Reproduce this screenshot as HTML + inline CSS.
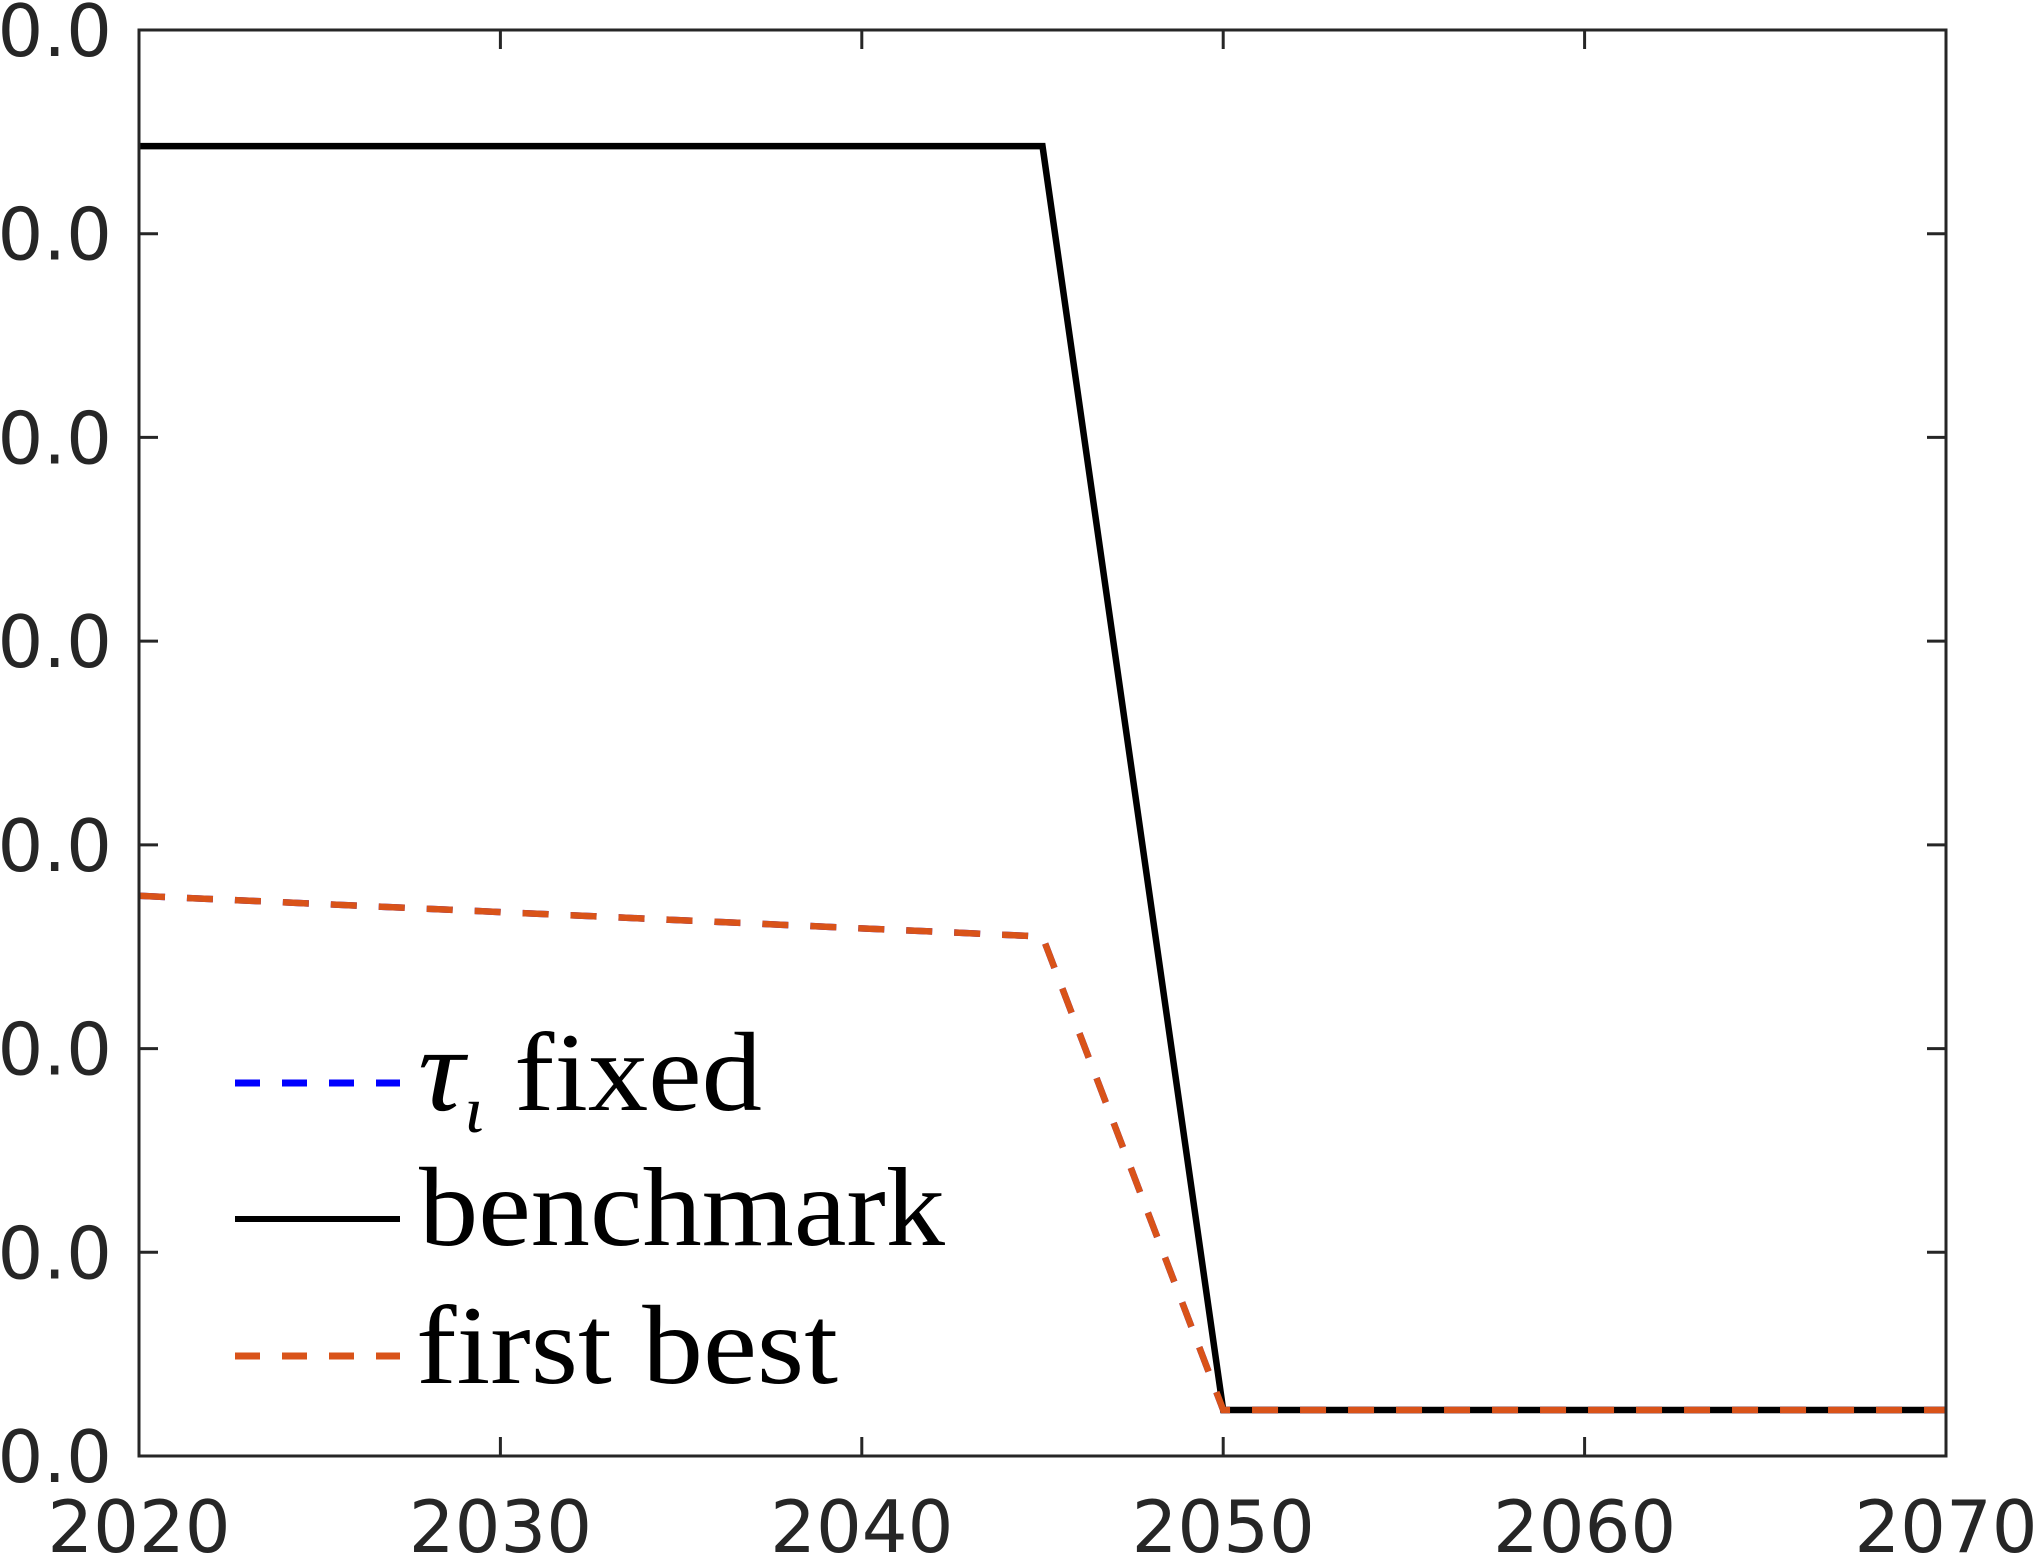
<!DOCTYPE html>
<html><head><meta charset="utf-8"><style>
html,body{margin:0;padding:0;background:#fff;}
svg{display:block;}
.tk{font-family:"DejaVu Sans","Liberation Sans",sans-serif;font-size:72px;fill:#262626;}
.lg{font-family:"Liberation Serif",serif;font-size:112px;fill:#000;}
</style></head><body>
<svg id="chart" width="2036" height="1554" viewBox="0 0 2036 1554" xmlns="http://www.w3.org/2000/svg">
<g id="marks"></g>
<g id="axes"></g>
<g id="legend">
  <line x1="235" y1="1083" x2="400" y2="1083" stroke="#0000ff" stroke-width="7" stroke-dasharray="25,22"/>
  <text class="lg" x="418" y="1110" textLength="344" lengthAdjust="spacingAndGlyphs"><tspan font-style="italic" font-size="120">τ</tspan><tspan font-style="italic" font-size="66" dy="22">ι</tspan><tspan dy="-22"> fixed</tspan></text>
  <line x1="235" y1="1219" x2="400" y2="1219" stroke="#000" stroke-width="6"/>
  <text class="lg" x="419" y="1245" textLength="526" lengthAdjust="spacingAndGlyphs">benchmark</text>
  <line x1="235" y1="1356" x2="400" y2="1356" stroke="#D95319" stroke-width="7" stroke-dasharray="25,22"/>
  <text class="lg" x="416" y="1383" textLength="422" lengthAdjust="spacingAndGlyphs">first best</text>
</g>
</svg>
<script>
const years = [2020, 2045, 2050, 2070];
const benchmark = [6.43, 6.43, 0.226, 0.226];
const firstBest = [2.75, 2.55, 0.226, 0.226];
const tauFixed = [2.75, 2.55, 0.226, 0.226];
const xTicks = [2020, 2030, 2040, 2050, 2060, 2070];
const yTicks = [0, 1, 2, 3, 4, 5, 6, 7];
const yTickLabels = ["0.0","0.0","0.0","0.0","0.0","0.0","0.0","0.0"];

const L=139, R=1946, T=30, B=1456;
const NS="http://www.w3.org/2000/svg";
function xs(v){return L+(v-2020)/(2070-2020)*(R-L);}
function ys(v){return B-(v-0)/(7-0)*(B-T);}
function mk(tag, attrs, parent){const e=document.createElementNS(NS,tag);for(const k in attrs)e.setAttribute(k,attrs[k]);parent.appendChild(e);return e;}
const marks=document.getElementById('marks');
const axes=document.getElementById('axes');
function series(vals, color, dash, name){
  const pts=years.map((y,i)=>xs(y)+','+ys(vals[i])).join(' ');
  const p=mk('polyline',{points:pts,fill:'none',stroke:color,'stroke-width':6.5},marks);
  if(dash)p.setAttribute('stroke-dasharray',dash);
  
  
}
series(tauFixed,'#0000ff','26,22','tau-fixed-line');
series(benchmark,'#000000',null,'benchmark-line');
series(firstBest,'#D95319','26,22','first-best-line');

const frame=mk('rect',{x:L,y:T,width:R-L,height:B-T,fill:'none',stroke:'#262626','stroke-width':3},axes);


xTicks.forEach(t=>{
  const x=xs(t);
  mk('line',{x1:x,y1:B,x2:x,y2:B-19,stroke:'#262626','stroke-width':3},axes);
  mk('line',{x1:x,y1:T,x2:x,y2:T+19,stroke:'#262626','stroke-width':3},axes);
  const tx=mk('text',{x:x,y:1552,'text-anchor':'middle',class:'tk'},axes);
  tx.textContent=String(t);
  
  
});
yTicks.forEach((t,i)=>{
  const y=ys(t);
  mk('line',{x1:L,y1:y,x2:L+19,y2:y,stroke:'#262626','stroke-width':3},axes);
  mk('line',{x1:R,y1:y,x2:R-19,y2:y,stroke:'#262626','stroke-width':3},axes);
  const tx=mk('text',{x:112,y:y+26,'text-anchor':'end',class:'tk'},axes);
  tx.textContent=yTickLabels[i];
  
  
});
</script>
</body></html>
